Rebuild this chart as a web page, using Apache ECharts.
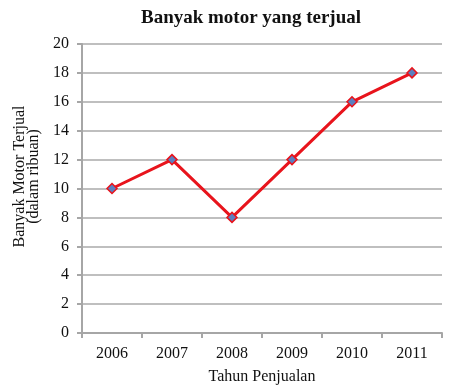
<!DOCTYPE html>
<html><head><meta charset="utf-8">
<script src="https://cdn.jsdelivr.net/npm/echarts@6/dist/echarts.min.js"></script>
<style>html,body{margin:0;padding:0;background:#fff}#c{width:457px;height:387px}</style>
</head><body><div id="c"></div>
<script>
const titleText = "Banyak motor yang terjual";
const categories = ["2006","2007","2008","2009","2010","2011"];
const values = [10, 12, 8, 12, 16, 18];
const yTicks = {min:0, max:20, interval:2};
const xName = "Tahun Penjualan";
const yName = "Banyak Motor Terjual\n(dalam ribuan)";
const font = "'Liberation Serif', 'DejaVu Serif', serif";
const chart = echarts.init(document.getElementById('c'), null, {renderer:'canvas'});
chart.setOption({
  animation:false,
  title:{text:titleText,left:246,top:4,textAlign:'center',textStyle:{fontFamily:font,fontSize:19,fontWeight:'bold',color:'#111'}},
  grid:{left:82,right:15,top:44,bottom:54,containLabel:false,outerBoundsMode:'none'},
  xAxis:{type:'category',data:categories,boundaryGap:true,
    name:xName,nameLocation:'middle',nameGap:36,nameMoveOverlap:false,nameTextStyle:{fontFamily:font,fontSize:16,color:'#111'},
    axisLine:{lineStyle:{color:'#a6a6a6',width:2}},
    axisTick:{show:true,alignWithLabel:false,length:5,lineStyle:{color:'#a6a6a6',width:2}},
    axisLabel:{fontFamily:font,fontSize:16,color:'#111',margin:13}},
  yAxis:{type:'value',min:yTicks.min,max:yTicks.max,interval:yTicks.interval,
    name:yName,nameLocation:'middle',nameGap:41,nameMoveOverlap:false,nameRotate:90,nameTextStyle:{fontFamily:font,fontSize:16,color:'#111',lineHeight:14,padding:[0,0,0,24]},
    axisLine:{show:true,lineStyle:{color:'#a6a6a6',width:2}},
    axisTick:{show:true,length:5,lineStyle:{color:'#a6a6a6',width:2}},
    splitLine:{lineStyle:{color:'#bfbfbf',width:2}},
    axisLabel:{fontFamily:font,fontSize:16,color:'#111',margin:13}},
  series:[{type:'line',data:values,symbol:'diamond',symbolSize:10,
    lineStyle:{color:'#e8141c',width:3},
    itemStyle:{color:'#5b7fc0',borderColor:'#e8141c',borderWidth:1.5}}]
});
</script></body></html>
